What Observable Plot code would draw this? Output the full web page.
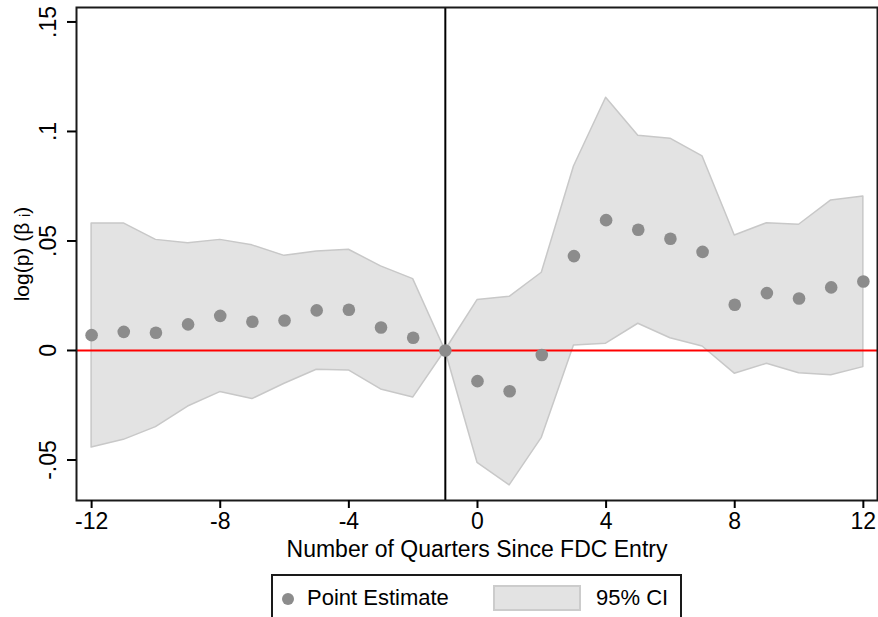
<!DOCTYPE html>
<html>
<head>
<meta charset="utf-8">
<script src="https://cdn.jsdelivr.net/npm/d3@7"></script>
<script src="https://cdn.jsdelivr.net/npm/@observablehq/plot@0.6"></script>
<style>
  html, body { margin: 0; padding: 0; background: #fff; overflow: hidden; }
  body { width: 878px; height: 617px; position: relative; font-family: "Liberation Sans", Arial, sans-serif; }
  #chart svg { display: block; }
  .legend { position: absolute; left: 271px; top: 574px; width: 411px; height: 60px; border: 2px solid #1a1a1a; background: #fff; box-sizing: border-box; }
  .legend .dot { position: absolute; left: 9px; top: 17px; width: 12px; height: 12px; border-radius: 50%; background: #8c8c8c; }
  .legend .t1 { position: absolute; left: 34px; top: 9px; font-size: 22px; line-height: 26px; color: #000; white-space: nowrap; }
  .legend .sw { position: absolute; left: 220px; top: 9px; width: 88px; height: 26px; background: #e3e3e3; border: 2px solid #cccccc; box-sizing: border-box; }
  .legend .t2 { position: absolute; left: 323px; top: 9px; font-size: 22px; line-height: 26px; color: #000; white-space: nowrap; }
</style>
</head>
<body>
<div id="chart"></div>
<div class="legend">
  <span class="dot"></span><span class="t1">Point Estimate</span>
  <span class="sw"></span><span class="t2">95% CI</span>
</div>
<script>
// Quarters since FDC entry
const quarters = [-12,-11,-10,-9,-8,-7,-6,-5,-4,-3,-2,-1,0,1,2,3,4,5,6,7,8,9,10,11,12];
// Point estimates
const estimate = [0.0070,0.0085,0.0081,0.0119,0.0158,0.0131,0.0137,0.0183,0.0186,0.0105,0.0058,0,
                  -0.0140,-0.0186,-0.0021,0.0431,0.0595,0.0551,0.0510,0.0450,0.0209,0.0262,0.0237,0.0288,0.0315];
// 95% CI lower bound
const ciLow = [-0.0443,-0.0408,-0.0350,-0.0256,-0.0190,-0.0222,-0.0152,-0.0088,-0.0091,-0.0178,-0.0215,0,
               -0.0513,-0.0616,-0.0399,0.0023,0.0031,0.0122,0.0056,0.0018,-0.0106,-0.0061,-0.0104,-0.0113,-0.0076];
// 95% CI upper bound
const ciHigh = [0.0580,0.0580,0.0505,0.0490,0.0505,0.0480,0.0432,0.0452,0.0460,0.0384,0.0326,0,
                0.0230,0.0245,0.0355,0.0840,0.1154,0.0980,0.0967,0.0886,0.0525,0.0581,0.0574,0.0685,0.0703];

const xTicks = [-12,-8,-4,0,4,8,12];
const xTickLabels = ["-12","-8","-4","0","4","8","12"];
const yTicks = [-0.05,0,0.05,0.1,0.15];
const yTickLabels = ["-.05","0",".05",".1",".15"];
const xDomain = [-12.47, 12.44];
const yDomain = [-0.0685, 0.1566];
const entryQuarter = [-1];
const zeroLine = [0];
const xTitle = "Number of Quarters Since FDC Entry";
const yTitle = "log(p) (\u03B2 \u1D62)";

const data = quarters.map((q, i) => ({q, est: estimate[i], lo: ciLow[i], hi: ciHigh[i]}));
const yTickData = yTicks.map((v, i) => ({v, label: yTickLabels[i]}));

const chart = Plot.plot({
  width: 878,
  height: 570,
  marginTop: 7,
  marginLeft: 76,
  marginRight: 1,
  marginBottom: 70,
  style: {fontFamily: "'Liberation Sans', Arial, sans-serif", fontSize: "23px", color: "#000", background: "#fff"},
  x: {domain: xDomain},
  y: {domain: yDomain},
  marks: [
    Plot.areaY(data, {x: "q", y1: "lo", y2: "hi", fill: "#e3e3e3", stroke: "#c8c8c8", strokeWidth: 1.5}),
    Plot.ruleY(zeroLine, {stroke: "#ff0000", strokeWidth: 2}),
    Plot.ruleX(entryQuarter, {stroke: "#000", strokeWidth: 2}),
    Plot.frame({stroke: "#1a1a1a", strokeWidth: 2}),
    Plot.dot(data, {x: "q", y: "est", r: 6.3, fill: "#8c8c8c", stroke: "none"}),
    Plot.axisX({ticks: xTicks, tickSize: 8, tickPadding: 4, strokeWidth: 2, tickFormat: (d) => xTickLabels[xTicks.indexOf(d)], label: null, fontSize: 23}),
    Plot.axisY({ticks: yTicks, tickSize: 9, strokeWidth: 2, tickFormat: () => "", label: null}),
    Plot.text(yTickData, {frameAnchor: "left", y: "v", text: "label", rotate: -90, dx: -28, lineAnchor: "middle", textAnchor: "middle", fontSize: 23}),
    Plot.text([xTitle], {frameAnchor: "bottom", dy: 49, lineAnchor: "middle", textAnchor: "middle", fontSize: 23}),
    Plot.text([yTitle], {frameAnchor: "left", dx: -54, rotate: -90, lineAnchor: "middle", textAnchor: "middle", fontSize: 21})
  ]
});
document.getElementById("chart").appendChild(chart);
</script>
</body>
</html>
